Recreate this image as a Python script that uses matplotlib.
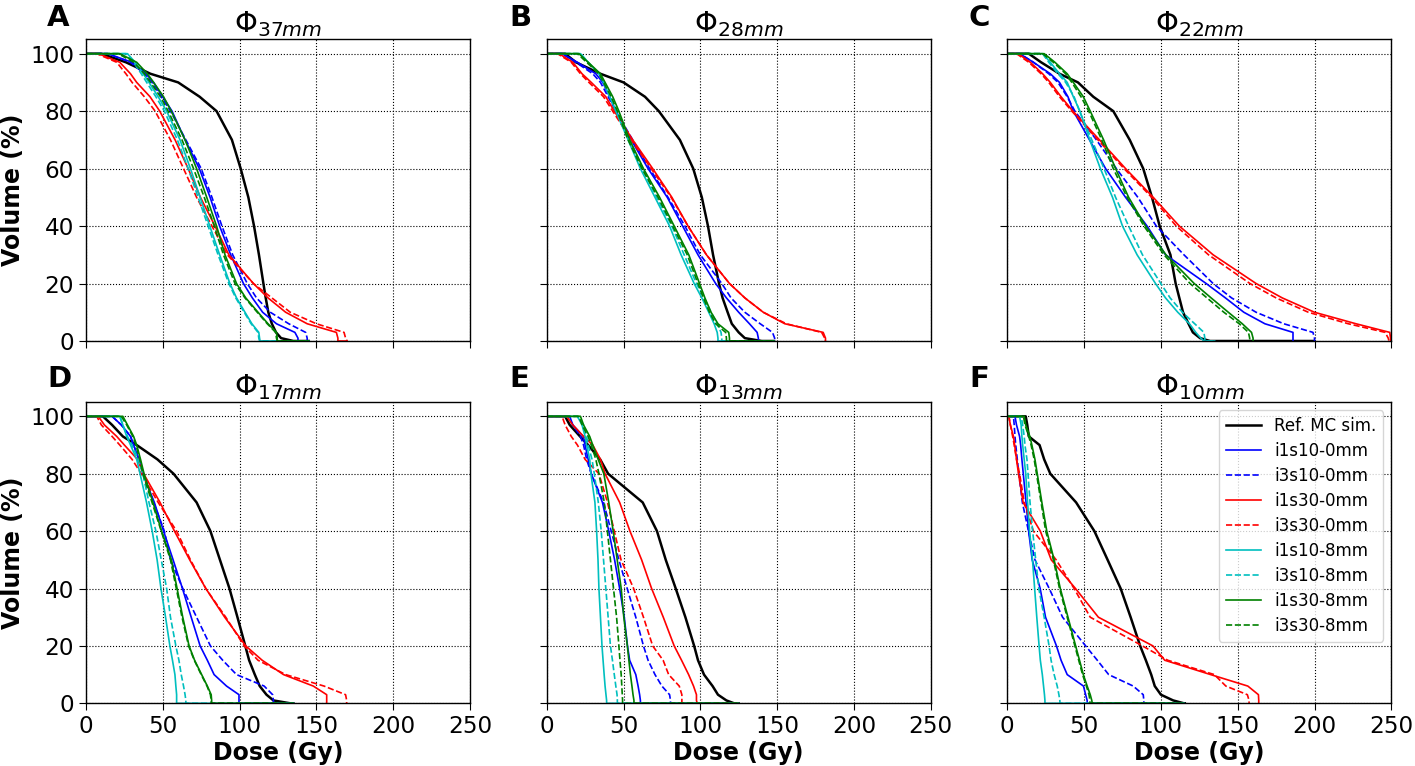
import matplotlib
matplotlib.use("Agg")
import matplotlib.pyplot as plt

# Volume levels (%) at which doses were read; last two zeros: drop point and end of flat tail
VOL = [100, 97, 93, 90, 85, 80, 70, 60, 50, 40, 30, 20, 15, 10, 6, 3, 1, 0, 0]

LABELS = ["Ref. MC sim.", "i1s10-0mm", "i3s10-0mm", "i1s30-0mm", "i3s30-0mm",
          "i1s10-8mm", "i3s10-8mm", "i1s30-8mm", "i3s30-8mm"]
TITLES = [r"$\Phi_{37mm}$", r"$\Phi_{28mm}$", r"$\Phi_{22mm}$",
          r"$\Phi_{17mm}$", r"$\Phi_{13mm}$", r"$\Phi_{10mm}$"]
LETTERS = ["A", "B", "C", "D", "E", "F"]
XTICKS = [0, 50, 100, 150, 200, 250]
YTICKS = [0, 20, 40, 60, 80, 100]

# Panel A (phi 37 mm): dose (Gy) at each VOL level
a_ref      = [10, 26, 42, 60, 74, 85, 95, 100.7, 105.7, 109.4, 112.6, 115.5, 117, 118.7, 121, 123.7, 127, 135, 145]
a_i1s10_0  = [14, 30, 39, 44, 50, 56, 64.5, 73.8, 80.8, 87, 94.2, 102.5, 108.3, 115, 124, 136, 138, 138, 145]
a_i3s10_0  = [14, 29, 38, 43, 49, 55, 65, 75, 82, 88.5, 95.5, 105, 111, 120, 132, 143, 144, 144, 145]
a_i1s30_0  = [8, 22, 29, 33, 41.7, 48, 58, 66.5, 74.5, 84, 93, 109, 118.5, 130, 144, 163, 164, 164, 170]
a_i3s30_0  = [7, 20, 26, 30, 38, 45, 55, 63.5, 72, 82, 92, 109, 121, 133, 150, 168, 169, 170, 170]
a_i1s10_8  = [27, 32, 37.3, 41, 47, 52.5, 61.2, 68, 74.3, 80.6, 87, 93.7, 98, 103.5, 108, 112.5, 113, 113.3, 145]
a_i3s10_8  = [26, 31, 36, 39.5, 45.5, 51, 59.5, 66.5, 73, 79.5, 86, 93, 97.5, 103, 107.5, 112, 112.5, 113, 145]
a_i1s30_8  = [22, 33, 40, 44, 50.5, 55.5, 64.5, 72, 78.6, 85, 90.5, 98, 104, 112, 118.5, 124, 124.5, 124.6, 145]
a_i3s30_8  = [21, 31, 38, 42, 48.5, 53.5, 62.5, 70, 77, 83.5, 89.5, 97, 103.5, 111.5, 118, 123.5, 124, 124.5, 145]

# Panel B (phi 28 mm)
b_ref      = [12, 19, 35, 50, 64, 73, 86.7, 95.4, 101, 105, 108.3, 112.2, 114.5, 117.8, 120.5, 125, 129, 140, 148]
b_i1s10_0  = [10, 20, 32, 36.5, 41, 45, 55, 66, 78.5, 88.5, 98.5, 110, 117, 125, 132, 137, 137.8, 137.8, 148]
b_i3s10_0  = [10, 19, 30, 35, 40, 45, 56, 67, 79, 90, 100, 114, 120, 129, 139, 147, 148.4, 148.4, 148.4]
b_i1s30_0  = [8, 17, 23, 29, 38.5, 44, 56, 69, 81.5, 92, 104, 119, 129, 141, 155, 180, 181.5, 181.5, 181.5]
b_i3s30_0  = [7, 16, 22, 27.5, 37, 43, 55, 68, 81, 92, 104, 119, 129, 141, 156, 179, 181, 181.5, 181.5]
b_i1s10_8  = [22, 27, 34, 37, 41, 45, 53, 61, 70.5, 80, 87.5, 96, 101, 105.5, 109, 111, 111.5, 111.5, 148]
b_i3s10_8  = [22, 27, 34, 37, 41.5, 45.5, 54, 62.5, 71.5, 81.5, 89.5, 97.5, 102.5, 107, 111, 113.5, 114, 114, 148]
b_i1s30_8  = [21, 27, 35, 38, 43, 47, 54, 63, 73.5, 83, 92.5, 99.5, 103, 107, 111.5, 118.5, 119, 119, 148]
b_i3s30_8  = [20, 26, 34, 37, 42, 46, 53, 62, 72.5, 82, 91.5, 98.5, 102, 106, 110, 116.5, 117, 117, 148]

# Panel C (phi 22 mm)
c_ref      = [14, 22, 34, 46, 56, 69, 79.7, 88.5, 94.2, 99.2, 106.2, 109.6, 112, 114.4, 118, 120.8, 125.5, 132, 200]
c_i1s10_0  = [8, 17, 28, 34, 39.5, 43, 53.5, 64, 77, 91, 103, 129.5, 142, 154, 167.7, 186, 186, 186, 186]
c_i3s10_0  = [8, 17, 27, 33, 39, 44, 58, 71, 85, 97, 115, 134, 146, 162, 180, 199, 200, 200, 200]
c_i1s30_0  = [7, 15, 23, 28, 35, 42.7, 60, 77, 95, 112, 134, 162, 179, 200, 227, 249, 249.5, 249.5, 250]
c_i3s30_0  = [6, 14, 22, 27, 34, 42, 59, 76, 94, 110, 131, 158, 175, 196, 222, 246, 248, 248.5, 250]
c_i1s10_8  = [23, 28, 34, 39, 43, 47.3, 53.7, 60.6, 68.5, 75, 84.5, 96.5, 103, 111, 118.6, 122.7, 126, 128, 135]
c_i3s10_8  = [23, 27, 33, 38, 43.5, 47, 55, 63, 70.5, 79, 88, 100, 106, 114, 122, 128, 128.6, 128.6, 135]
c_i1s30_8  = [24, 31, 39, 43, 49.5, 54, 62.7, 70.5, 79, 90, 103.3, 121.7, 132.7, 143.9, 153, 159, 160, 160, 160]
c_i3s30_8  = [23, 30, 38, 42, 48, 53, 61.5, 69, 78, 89, 102, 119, 130, 141, 151, 157, 157.8, 157.8, 157.8]

# Panel D (phi 17 mm)
d_ref      = [11, 17, 24, 33, 46.5, 57, 72, 81, 87.2, 93.4, 98.6, 103.7, 106.2, 109.9, 113.1, 117.5, 122, 133, 135]
d_i1s10_0  = [17, 23, 29, 31, 34.5, 37, 44.5, 50.5, 56.7, 62.8, 68.5, 74.3, 79, 83.4, 91.5, 99.6, 99.6, 99.6, 135]
d_i3s10_0  = [17, 23, 29, 31, 34.5, 37.5, 44, 51, 55, 63, 72, 81, 89, 98, 116, 121.5, 122, 122, 135]
d_i1s30_0  = [8, 12, 20, 25, 33.5, 37.5, 48.2, 57.6, 67.5, 78, 90.3, 104, 114.7, 128.6, 148, 156.7, 156.7, 156.7, 156.7]
d_i3s30_0  = [7, 10, 17, 22, 30, 36, 47, 59, 68, 78, 91, 103, 112, 130, 155, 169, 169.7, 169.7, 170]
d_i1s10_8  = [22, 24, 26.5, 29, 33, 35.2, 39.4, 43.1, 46.3, 48.8, 51.8, 54.6, 56.3, 57.9, 58.5, 59, 59, 59, 135]
d_i3s10_8  = [22, 24, 27, 30, 34, 37, 41, 45.5, 49, 52.5, 55, 58.5, 60.5, 62, 63.5, 64.5, 65, 65, 135]
d_i1s30_8  = [24, 27, 31, 33, 35.5, 37.8, 43.6, 49.2, 55.6, 59.3, 63, 67.1, 70.7, 75.3, 79, 81.5, 81.8, 81.8, 135]
d_i3s30_8  = [23, 26.5, 30.5, 32.5, 35, 37, 43, 49, 55, 58.8, 62.5, 66.8, 70.5, 75, 78.8, 81, 81.5, 81.5, 135]

# Panel E (phi 13 mm)
e_ref      = [12, 15, 21.7, 27, 34.8, 40, 62.5, 71.8, 77.5, 84, 90.3, 96, 98.5, 102.4, 108, 111.5, 117, 122, 125]
e_i1s10_0  = [15, 17, 23.8, 25, 27, 29, 36.3, 40.4, 44.2, 47.5, 50.5, 52.6, 54, 58, 59.5, 60.5, 61, 61, 125]
e_i3s10_0  = [14, 17, 22, 24, 26, 29, 37, 42, 47, 52.4, 58, 63, 66, 70.5, 75, 80, 80.6, 80.6, 125]
e_i1s30_0  = [13, 17, 24, 30, 35, 38, 47.5, 54.2, 61.8, 68.3, 75.9, 83, 87.8, 92.4, 95.6, 97.5, 97.5, 98, 125]
e_i3s30_0  = [10, 12, 16, 20, 25, 34, 39.6, 44, 48.4, 56.6, 63, 69, 75.8, 79.4, 86.3, 88, 88, 88, 125]
e_i1s10_8  = [20, 23, 25, 26, 28, 28.8, 31.4, 32.5, 33.4, 34, 35, 36, 36.7, 37.4, 38, 38.6, 39, 39, 125]
e_i3s10_8  = [20, 24, 26, 27, 29.5, 31, 33.6, 35.5, 37, 38.5, 40, 41.5, 42.8, 44, 45, 45.8, 46, 46, 125]
e_i1s30_8  = [22, 24, 28, 30, 33.5, 37.2, 40.4, 43.3, 45.9, 48.5, 50.2, 52.5, 53.5, 54.5, 55.5, 56.2, 56.8, 56.8, 125]
e_i3s30_8  = [21, 23, 27, 29, 32, 34, 37.5, 39.5, 41.5, 43.5, 45.5, 47, 47.7, 48.5, 48.9, 49.2, 49.4, 49.4, 125]

# Panel F (phi 10 mm)
f_ref      = [12, 13, 14, 21, 24, 28, 44.8, 56.7, 65.3, 73.8, 80.3, 86.5, 90.2, 93.7, 96, 100, 108, 115, 115.6]
f_i1s10_0  = [5, 6, 8, 8.7, 9.5, 10.4, 12.2, 13.9, 16.2, 21.4, 24.9, 32, 35, 39, 49.6, 51, 52, 52, 115]
f_i3s10_0  = [4, 4.5, 5, 5.5, 6.5, 7.5, 9.8, 13.8, 18, 27.3, 36, 51, 58.6, 66, 82, 88.5, 88.9, 88.9, 115]
f_i1s30_0  = [1, 2, 4, 4.8, 6, 7.3, 10.3, 21.5, 28.6, 44.4, 59.3, 94.8, 102.5, 132.4, 156.6, 163.5, 163.7, 163.7, 163.7]
f_i3s30_0  = [1, 2, 3.5, 4.5, 6, 8, 11, 17, 31.8, 43.5, 54, 88, 104.5, 134.8, 142.3, 156.3, 157.4, 157.4, 157.4]
f_i1s10_8  = [8, 9, 9.5, 10, 11, 12, 13.2, 14.5, 16.4, 17.8, 19.2, 20.7, 21.5, 22.8, 23.6, 24.2, 24.5, 24.5, 115]
f_i3s10_8  = [9, 10, 11, 11.5, 12.8, 13.5, 14.8, 16.5, 18.5, 20.5, 24, 27.2, 28.5, 30.5, 32.5, 33.6, 34.2, 34.3, 115]
f_i1s30_8  = [11, 12, 14.7, 16, 18, 19.5, 22.5, 25.7, 30.5, 34.5, 39.5, 44.5, 47, 49.5, 52, 54, 55, 55.3, 115]
f_i3s30_8  = [10.5, 11.5, 14, 15.5, 17.5, 19, 22, 25, 30, 34, 39, 44, 46.5, 49, 51.5, 53.2, 53.8, 53.8, 115]

PANELS = [
    [a_ref, a_i1s10_0, a_i3s10_0, a_i1s30_0, a_i3s30_0, a_i1s10_8, a_i3s10_8, a_i1s30_8, a_i3s30_8],
    [b_ref, b_i1s10_0, b_i3s10_0, b_i1s30_0, b_i3s30_0, b_i1s10_8, b_i3s10_8, b_i1s30_8, b_i3s30_8],
    [c_ref, c_i1s10_0, c_i3s10_0, c_i1s30_0, c_i3s30_0, c_i1s10_8, c_i3s10_8, c_i1s30_8, c_i3s30_8],
    [d_ref, d_i1s10_0, d_i3s10_0, d_i1s30_0, d_i3s30_0, d_i1s10_8, d_i3s10_8, d_i1s30_8, d_i3s30_8],
    [e_ref, e_i1s10_0, e_i3s10_0, e_i1s30_0, e_i3s30_0, e_i1s10_8, e_i3s10_8, e_i1s30_8, e_i3s30_8],
    [f_ref, f_i1s10_0, f_i3s10_0, f_i1s30_0, f_i3s30_0, f_i1s10_8, f_i3s10_8, f_i1s30_8, f_i3s30_8],
]

COLORS = ["k", "b", "b", "r", "r", "c", "c", "g", "g"]
STYLES = ["-", "-", "--", "-", "--", "-", "--", "-", "--"]
WIDTHS = [1.8, 1.2, 1.2, 1.2, 1.2, 1.2, 1.2, 1.2, 1.2]

W, H = 1415, 766
fig = plt.figure(figsize=(W / 100, H / 100), dpi=100)

lefts = [86, 546.7, 1007.3]
rows = [(39.3, 341.0), (402.0, 703.3)]
axw = 384.0

for i in range(6):
    r, c = divmod(i, 3)
    top, bot = rows[r]
    ax = fig.add_axes([lefts[c] / W, 1 - bot / H, axw / W, (bot - top) / H])
    for j, d in enumerate(PANELS[i]):
        ax.plot([0] + d, [100] + VOL, color=COLORS[j], ls=STYLES[j], lw=WIDTHS[j],
                label=LABELS[j])
    ax.set_xlim(0, 250)
    ax.set_ylim(0, 105)
    ax.set_xticks(XTICKS)
    ax.set_yticks(YTICKS)
    ax.grid(True, ls=":", color="k", lw=0.8)
    ax.tick_params(labelsize=16.7, length=5)
    if r == 0:
        ax.set_xticklabels([])
    else:
        ax.set_xlabel("Dose (Gy)", fontsize=17, fontweight="bold", labelpad=2)
    if c == 0:
        ax.set_ylabel("Volume (%)", fontsize=17, fontweight="bold", labelpad=4)
    else:
        ax.set_yticklabels([])
    ax.set_title(TITLES[i], fontsize=21, pad=3)
    for s in ax.spines.values():
        s.set_linewidth(1.0)
    if i == 5:
        ax.legend(loc="upper right", fontsize=12, handlelength=2.1, labelspacing=0.42)

letter_x = [47, 509, 969]
letter_y = [26, 387]
for i in range(6):
    r, c = divmod(i, 3)
    fig.text(letter_x[c] / W, 1 - letter_y[r] / H, LETTERS[i], fontsize=21,
             fontweight="bold", ha="left", va="baseline")

fig.savefig("out.png", dpi=100)
